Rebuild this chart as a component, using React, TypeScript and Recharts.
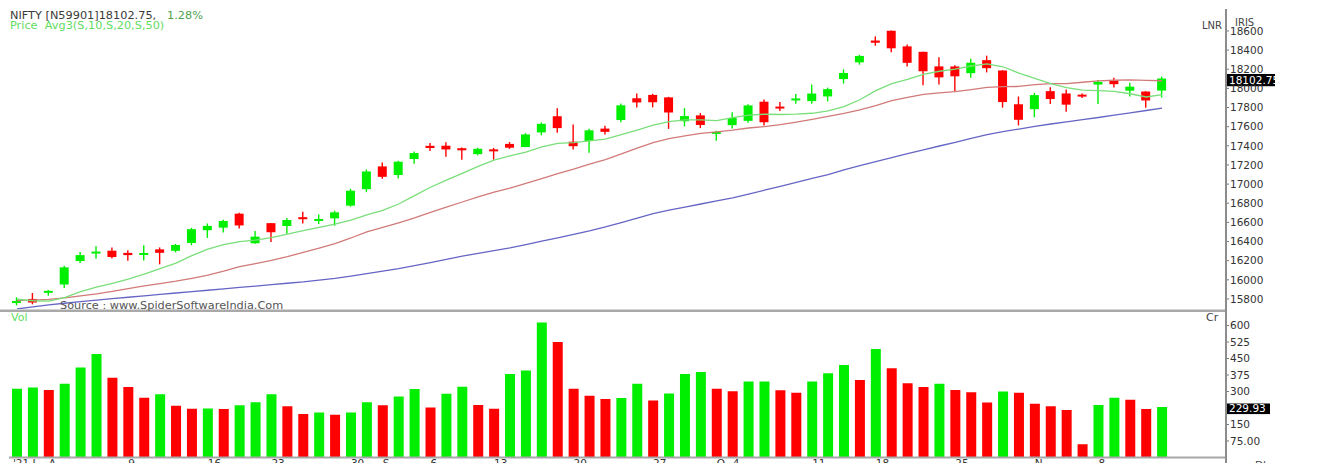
import React from "react";
import {
  Bar,
  Cell,
  ComposedChart,
  Line,
  ReferenceLine,
  XAxis,
  YAxis,
} from "recharts";

const GREEN = "#00ee00";
const RED = "#ff0000";

// trading sessions, 29 Jul 2021 .. 12 Nov 2021
const dates = [
  "Jul 29", "Jul 30", "Aug 2", "Aug 3", "Aug 4", "Aug 5", "Aug 6", "Aug 9", "Aug 10", "Aug 11",
  "Aug 12", "Aug 13", "Aug 16", "Aug 17", "Aug 18", "Aug 20", "Aug 23", "Aug 24", "Aug 25", "Aug 26",
  "Aug 27", "Aug 30", "Aug 31", "Sep 1", "Sep 2", "Sep 3", "Sep 6", "Sep 7", "Sep 8", "Sep 9",
  "Sep 13", "Sep 14", "Sep 15", "Sep 16", "Sep 17", "Sep 20", "Sep 21", "Sep 22", "Sep 23", "Sep 24",
  "Sep 27", "Sep 28", "Sep 29", "Sep 30", "Oct 1", "Oct 4", "Oct 5", "Oct 6", "Oct 7", "Oct 8",
  "Oct 11", "Oct 12", "Oct 13", "Oct 14", "Oct 18", "Oct 19", "Oct 20", "Oct 21", "Oct 22", "Oct 25",
  "Oct 26", "Oct 27", "Oct 28", "Oct 29", "Nov 1", "Nov 2", "Nov 3", "Nov 4", "Nov 8", "Nov 9",
  "Nov 10", "Nov 11", "Nov 12",
];

const open = [
  15762, 15800, 15874, 15951, 16196, 16288, 16304, 16281, 16272, 16318,
  16303, 16385, 16518, 16545, 16691, 16382, 16592, 16562, 16654, 16627,
  16642, 16775, 16947, 17185, 17095, 17262, 17400, 17401, 17375, 17313,
  17363, 17420, 17387, 17540, 17709, 17443, 17450, 17580, 17670, 17897,
  17932, 17906, 17657, 17718, 17535, 17616, 17661, 17861, 17810, 17886,
  17867, 17916, 18097, 18272, 18500, 18602, 18439, 18382, 18230, 18229,
  18159, 18295, 18187, 17834, 17783, 17971, 17947, 17935, 18040, 18084,
  17976, 17967, 17977,
];
const high = [
  15817, 15862, 15892, 16146, 16290, 16350, 16337, 16310, 16360, 16338,
  16375, 16543, 16589, 16628, 16701, 16510, 16592, 16647, 16712, 16684,
  16722, 16951, 17153, 17225, 17245, 17340, 17429, 17436, 17383, 17379,
  17378, 17439, 17532, 17644, 17793, 17622, 17578, 17610, 17843, 17947,
  17943, 17912, 17793, 17743, 17557, 17750, 17833, 17884, 17857, 17941,
  18041, 18008, 18198, 18350, 18543, 18604, 18458, 18384, 18325, 18241,
  18310, 18342, 18190, 17915, 17954, 18013, 17988, 17947, 18087, 18112,
  18060, 17971, 18123,
];
const low = [
  15732, 15744, 15834, 15914, 16176, 16220, 16223, 16200, 16202, 16162,
  16286, 16361, 16438, 16495, 16535, 16376, 16395, 16482, 16588, 16582,
  16565, 16764, 16916, 17055, 17059, 17212, 17345, 17287, 17254, 17302,
  17255, 17368, 17386, 17510, 17537, 17361, 17327, 17518, 17646, 17799,
  17802, 17577, 17603, 17585, 17452, 17581, 17640, 17613, 17765, 17840,
  17839, 17864, 18050, 18248, 18445, 18377, 18228, 18034, 18040, 17968,
  18110, 18167, 17799, 17613, 17699, 17837, 17757, 17900, 17836, 18010,
  17915, 17798, 17905,
];
const close = [
  15778, 15763, 15885, 16130, 16258, 16295, 16238, 16258, 16280, 16282,
  16364, 16529, 16563, 16615, 16568, 16451, 16497, 16625, 16634, 16636,
  16705, 16931, 17132, 17076, 17234, 17324, 17377, 17362, 17353, 17369,
  17355, 17380, 17519, 17630, 17585, 17396, 17562, 17546, 17823, 17853,
  17855, 17748, 17711, 17618, 17545, 17691, 17822, 17646, 17790, 17895,
  17946, 17992, 18161, 18339, 18477, 18419, 18267, 18179, 18115, 18126,
  18268, 18211, 17857, 17672, 17930, 17889, 17830, 17916, 18068, 18044,
  18018, 17874, 18102.75,
];

// Avg3(S,10,S,20,S,50)
const sma10 = [
  15797, 15781, 15777, 15815, 15877, 15924, 15963, 16006, 16059, 16117,
  16175, 16252, 16320, 16368, 16399, 16415, 16441, 16477, 16513, 16548,
  16582, 16623, 16679, 16726, 16792, 16879, 16967, 17041, 17113, 17186,
  17251, 17296, 17335, 17390, 17425, 17433, 17451, 17470, 17517, 17565,
  17615, 17652, 17671, 17670, 17664, 17694, 17720, 17730, 17727, 17731,
  17740, 17764, 17809, 17881, 17976, 18049, 18093, 18147, 18179, 18202,
  18234, 18256, 18226, 18159, 18104, 18051, 18008, 17981, 17977, 17969,
  17944, 17910, 17934,
];
const sma20 = [
  15784, 15788, 15796, 15811, 15833, 15854, 15879, 15908, 15937, 15961,
  15986, 16016, 16048, 16091, 16138, 16170, 16202, 16242, 16286, 16332,
  16379, 16437, 16500, 16547, 16596, 16647, 16704, 16759, 16813, 16867,
  16917, 16959, 17007, 17058, 17109, 17156, 17209, 17255, 17315, 17376,
  17433, 17474, 17503, 17530, 17545, 17563, 17586, 17600, 17622, 17648,
  17677, 17708, 17740, 17776, 17820, 17871, 17907, 17938, 17953, 17966,
  17987, 18010, 18018, 18020, 18040, 18050, 18050, 18064, 18078, 18085,
  18089, 18083, 18080,
];
const sma50 = [
  15695, 15718, 15738, 15755, 15771, 15787, 15803, 15818, 15833, 15848,
  15862, 15877, 15891, 15906, 15920, 15935, 15949, 15964, 15978, 15996,
  16015, 16038, 16064, 16090, 16116, 16148, 16180, 16214, 16247, 16276,
  16305, 16334, 16367, 16403, 16439, 16475, 16511, 16552, 16598, 16645,
  16692, 16728, 16760, 16792, 16824, 16856, 16895, 16936, 16977, 17018,
  17059, 17100, 17149, 17192, 17234, 17277, 17318, 17358, 17398, 17437,
  17477, 17516, 17548, 17575, 17602, 17628, 17650, 17673, 17696, 17720,
  17744, 17769, 17793,
];

// volume in crores, and whether the bar is drawn green (1) or red (0)
const volume = [
  313, 318, 307, 335, 409, 471, 363, 320, 272, 288,
  235, 222, 223, 221, 238, 251, 288, 233, 198, 204,
  194, 204, 251, 238, 277, 311, 227, 290, 322, 239,
  222, 380, 395, 614, 525, 313, 281, 266, 270, 335,
  259, 291, 380, 389, 313, 301, 345, 345, 306, 294,
  345, 383, 421, 352, 493, 406, 338, 320, 335, 307,
  297, 250, 300, 294, 244, 233, 216, 60, 239, 272,
  262, 221, 229.93,
];
const volUp = [
  1, 1, 0, 1, 1, 1, 0, 0, 0, 1,
  0, 0, 1, 0, 1, 1, 1, 0, 0, 1,
  0, 1, 1, 0, 1, 1, 0, 1, 1, 0,
  0, 1, 1, 1, 0, 0, 0, 0, 1, 1,
  0, 1, 1, 1, 0, 0, 1, 1, 0, 0,
  1, 1, 1, 0, 1, 0, 0, 0, 1, 0,
  0, 0, 1, 0, 0, 0, 0, 0, 1, 1,
  0, 0, 1,
];

const tickDates = [
  "Jul 29", "Aug 2", "Aug 9", "Aug 16", "Aug 23", "Aug 30", "Sep 1", "Sep 6", "Sep 13",
  "Sep 20", "Sep 27", "Oct 1", "Oct 4", "Oct 11", "Oct 18", "Oct 25", "Nov 1", "Nov 8",
];
const tickText = [
  "'21 J", "A", "9", "16", "23", "30", "S", "6", "13",
  "20", "27", "O", "4", "11", "18", "25", "N", "8",
];

const priceTicks = [
  15800, 16000, 16200, 16400, 16600, 16800, 17000, 17200,
  17400, 17600, 17800, 18000, 18200, 18400, 18600,
];
const volTicks = [75, 150, 300, 375, 450, 525, 600];

const rows = dates.map((date, i) => ({
  date,
  o: open[i],
  h: high[i],
  l: low[i],
  c: close[i],
  range: [low[i], high[i]],
  ma10: sma10[i],
  ma20: sma20[i],
  ma50: sma50[i],
  vol: volume[i],
  up: volUp[i],
}));

function Candle(props: any) {
  const { x, y, width, height, payload } = props;
  if (!payload) return null;
  const top = Math.min(y, y + height);
  const h = Math.abs(height);
  const span = payload.h - payload.l || 1;
  const py = (v: number) => top + ((payload.h - v) / span) * h;
  const color = payload.c >= payload.o ? GREEN : RED;
  const cx = x + width / 2;
  const bTop = py(Math.max(payload.o, payload.c));
  const bBot = py(Math.min(payload.o, payload.c));
  return (
    <g>
      <line x1={cx} x2={cx} y1={top} y2={top + h} stroke={color} strokeWidth={1.4} />
      <rect x={x} y={bTop} width={width} height={Math.max(bBot - bTop, 2)} fill={color} />
    </g>
  );
}

function ValueTag(props: any) {
  const { viewBox, text, w, up, h } = props;
  if (!viewBox) return null;
  const bx = viewBox.x + viewBox.width + 1;
  return (
    <svg x={bx} y={viewBox.y - up} width={w} height={h}>
      <rect x={0} y={0} width={w} height={h} fill="#000" />
      <text x={2} y={h - 2.5} fill="#fff" fontSize={10.5}>
        {text}
      </text>
    </svg>
  );
}

function DateTick(props: any) {
  const { x, payload } = props;
  const k = tickDates.indexOf(payload?.value);
  if (k < 0) return <g />;
  return (
    <text x={x - (k === 0 ? 4 : 0)} y={156.5} fontSize={10.5} fill="#333" textAnchor="start">
      {tickText[k]}
    </text>
  );
}

const axisTick = { fill: "#333", fontSize: 10.5 };

export default function App() {
  return (
    <div
      style={{
        position: "absolute",
        left: 0,
        top: 0,
        width: 1341,
        height: 463,
        background: "#fff",
        overflow: "hidden",
        fontFamily: "'DejaVu Sans', Verdana, sans-serif",
      }}
    >
      <div style={{ position: "absolute", left: 0, top: 0 }}>
        <ComposedChart width={1341} height={310} data={rows} margin={{ top: 10, right: 0, bottom: 1, left: 9 }}>
          <XAxis dataKey="date" hide padding={{ left: 0, right: 56 }} />
          <YAxis
            orientation="right"
            width={115}
            domain={[15695, 18819]}
            allowDataOverflow
            ticks={priceTicks}
            interval={0}
            tick={axisTick}
            tickSize={3}
            tickMargin={1}
            tickLine={{ stroke: "#777" }}
            axisLine={false}
          />
          <Line dataKey="ma50" stroke="#6565c6" strokeWidth={1.3} dot={false} isAnimationActive={false} />
          <Line dataKey="ma20" stroke="#d27a7a" strokeWidth={1.3} dot={false} isAnimationActive={false} />
          <Line dataKey="ma10" stroke="#7ade7a" strokeWidth={1.3} dot={false} isAnimationActive={false} />
          <Bar dataKey="range" barSize={9} shape={<Candle />} isAnimationActive={false} />
          <ReferenceLine
            y={close[close.length - 1]}
            stroke="none"
            label={<ValueTag text="18102.75" w={48} h={12.5} up={4.6} />}
          />
        </ComposedChart>
      </div>

      <div style={{ position: "absolute", left: 0, top: 310 }}>
        <ComposedChart width={1341} height={153} data={rows} margin={{ top: 2, right: 0, bottom: 0, left: 9 }}>
          <XAxis
            dataKey="date"
            padding={{ left: 0, right: 56 }}
            height={5.5}
            interval={0}
            tick={<DateTick />}
            tickLine={false}
            axisLine={{ stroke: "#a8a8a8", strokeWidth: 2 }}
          />
          <YAxis
            orientation="right"
            width={115}
            domain={[0, 661.4]}
            allowDataOverflow
            ticks={volTicks}
            interval={0}
            tickFormatter={(v: number) => (v === 75 ? "75.00" : String(v))}
            tick={axisTick}
            tickSize={3}
            tickMargin={1}
            tickLine={{ stroke: "#777" }}
            axisLine={false}
          />
          <Bar dataKey="vol" barSize={10} isAnimationActive={false}>
            {rows.map((r, i) => (
              <Cell key={i} fill={r.up ? GREEN : RED} />
            ))}
          </Bar>
          <ReferenceLine
            y={volume[volume.length - 1]}
            stroke="none"
            label={<ValueTag text="229.93" w={43} h={11} up={3.6} />}
          />
        </ComposedChart>
      </div>

      <svg
        width={1341}
        height={463}
        style={{ position: "absolute", left: 0, top: 0, pointerEvents: "none" }}
      >
        <rect x={0} y={309.5} width={1226} height={2.5} fill="#a9a9a9" />
        <rect x={1225} y={9} width={2} height={454} fill="#8c8c8c" />
        <text x={10} y={18.5} fontSize={11.3} fill="#3a3a3a">
          NIFTY [N59901]18102.75,
        </text>
        <text x={167} y={18.5} fontSize={11.3} fill="#4f9f4f">
          1.28%
        </text>
        <text x={10} y={29} fontSize={11.3} fill="#62dc62" style={{ whiteSpace: "pre" }}>
          Price  Avg3(S,10,S,20,S,50)
        </text>
        <text x={60} y={309} fontSize={11.3} fill="#555">
          Source : www.SpiderSoftwareIndia.Com
        </text>
        <text x={1202} y={28.5} fontSize={10} fill="#444">
          LNR
        </text>
        <text x={1235} y={25.5} fontSize={10} fill="#444">
          IRIS
        </text>
        <text x={11} y={321} fontSize={11} fill="#62dc62">
          Vol
        </text>
        <text x={1206} y={321} fontSize={11} fill="#444">
          Cr
        </text>
        <text x={1255} y={469} fontSize={10.5} fill="#444">
          Dly
        </text>
      </svg>
    </div>
  );
}
